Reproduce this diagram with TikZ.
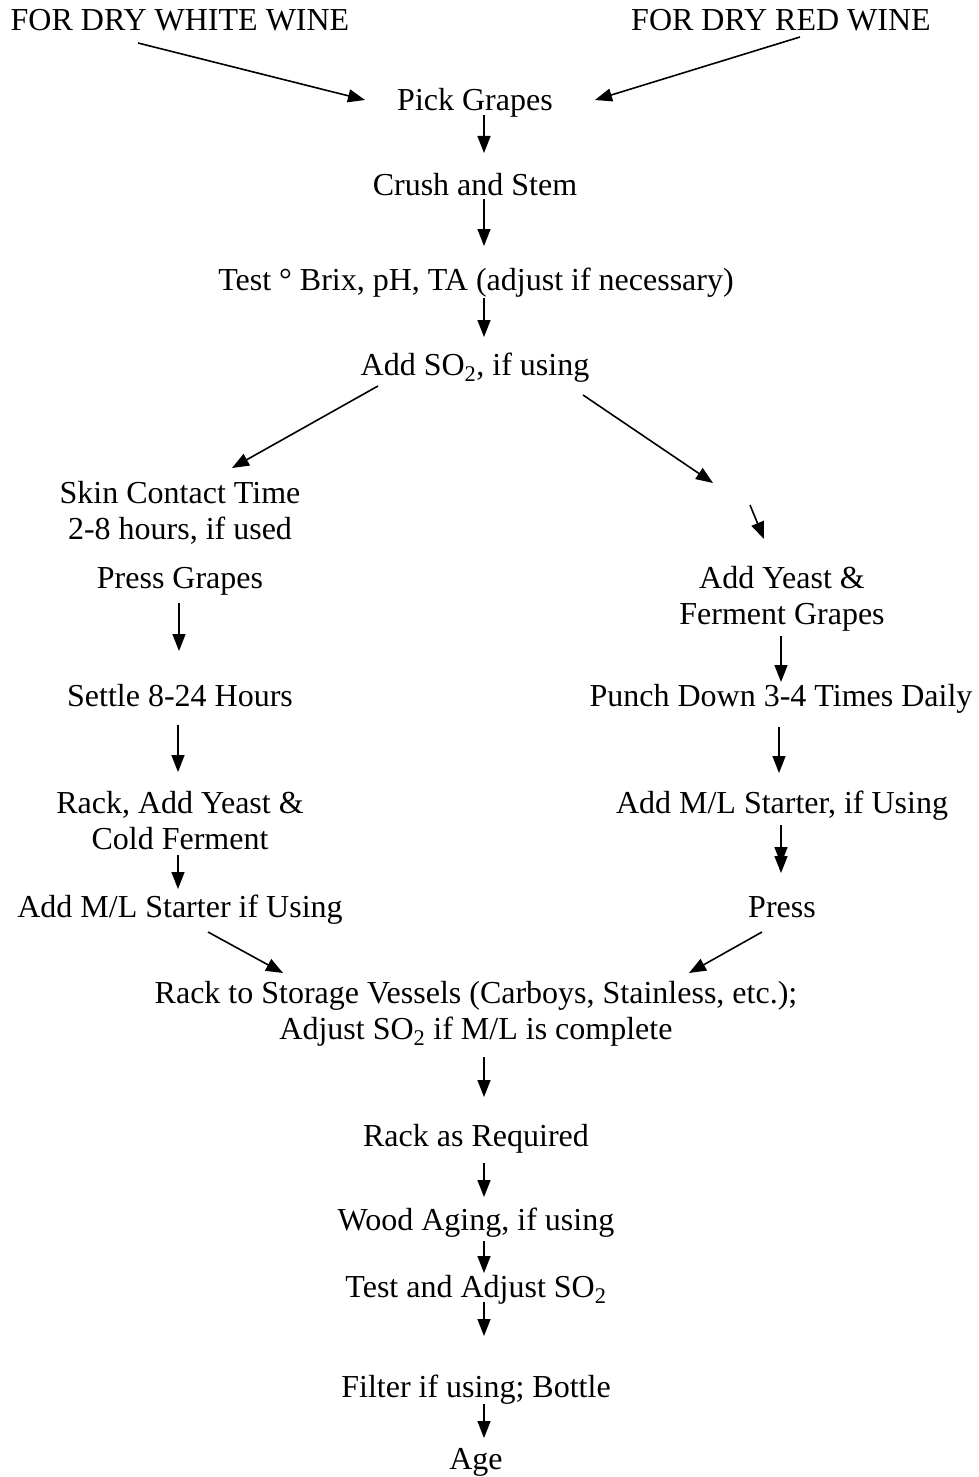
\documentclass[tikz,border=0pt]{standalone}
\usepackage{fontspec}
\setmainfont{Liberation Serif}
\usetikzlibrary{arrows.meta}
\tikzset{
  lbl/.style={anchor=base, inner sep=0pt, outer sep=0pt, font=\fontsize{32}{36}\selectfont},
  arr/.style={-{Triangle[length=17pt,width=13pt]}, line width=1.6pt},
  arrdbl/.style={-{Triangle[length=17pt,width=13pt,sep=-8pt]Triangle[length=17pt,width=13pt]}, line width=1.6pt}
}
\newcommand{\twoline}[2]{\begin{tabular}[t]{@{}c@{}}#1\\#2\end{tabular}}
\begin{document}
\begin{tikzpicture}[x=1pt,y=-1pt]
\useasboundingbox (0,0) rectangle (979,1477);
\node[lbl] (white) at (180,31) {FOR DRY WHITE WINE};
\node[lbl] (red) at (781,31) {FOR DRY RED WINE};
\node[lbl] (pick) at (475,111) {Pick Grapes};
\node[lbl] (crush) at (475,195) {Crush and Stem};
\node[lbl] (test) at (476,290) {Test ° Brix, pH, TA (adjust if necessary)};
\node[lbl] (so2) at (475,375) {Add SO\textsubscript{2}, if using};
\node[lbl] (skin) at (180,503) {\twoline{Skin Contact Time}{2-8 hours, if used}};
\node[lbl] (press) at (180,588) {Press Grapes};
\node[lbl] (settle) at (180,706) {Settle 8-24 Hours};
\node[lbl] (rack) at (180,813) {\twoline{Rack, Add Yeast \&}{Cold Ferment}};
\node[lbl] (mlw) at (180,917) {Add M/L Starter if Using};
\node[lbl] (yeast) at (782,588) {\twoline{Add Yeast \&}{Ferment Grapes}};
\node[lbl] (punch) at (781,706) {Punch Down 3-4 Times Daily};
\node[lbl] (mlr) at (782,813) {Add M/L Starter, if Using};
\node[lbl] (pressr) at (782,917) {Press};
\node[lbl] (store) at (476,1003) {\twoline{Rack to Storage Vessels (Carboys, Stainless, etc.);}{Adjust SO\textsubscript{2} if M/L is complete}};
\node[lbl] (rackreq) at (476,1146) {Rack as Required};
\node[lbl] (wood) at (476,1230) {Wood Aging, if using};
\node[lbl] (adjust) at (476,1297) {Test and Adjust SO\textsubscript{2}};
\node[lbl] (filter) at (476,1397) {Filter if using; Bottle};
\node[lbl] (age) at (476,1469) {Age};
\coordinate (gapA) at (713,483);
\coordinate (gapB) at (750,505);

\draw[arr] ([shift={(-42,12)}]white.base) -- ([shift={(-110,-11)}]pick.base);
\draw[arr] ([shift={(19,6)}]red.base) -- ([shift={(120,-11)}]pick.base);
\draw[arr] ([shift={(9,4)}]pick.base) -- ([shift={(9,-42)}]crush.base);
\draw[arr] ([shift={(9,4)}]crush.base) -- ([shift={(8,-44)}]test.base);
\draw[arr] ([shift={(8,8)}]test.base) -- ([shift={(9,-38)}]so2.base);
\draw[arr] ([shift={(-97,11)}]so2.base) -- ([shift={(52,-35)}]skin.base);
\draw[arr] ([shift={(108,20)}]so2.base) -- (gapA);
\draw[arr] (gapB) -- ([shift={(-18,-49)}]yeast.base);
\draw[arr] ([shift={(-1,15)}]press.base) -- ([shift={(-1,-55)}]settle.base);
\draw[arr] ([shift={(-2,19)}]settle.base) -- ([shift={(-2,-41)}]rack.base);
\draw[arr] ([shift={(-2,42)}]rack.base) -- ([shift={(-2,-28)}]mlw.base);
\draw[arr] ([shift={(-1,48)}]yeast.base) -- ([shift={(0,-24)}]punch.base);
\draw[arr] ([shift={(-2,21)}]punch.base) -- ([shift={(-3,-40)}]mlr.base);
\draw[arrdbl] ([shift={(-1,12)}]mlr.base) -- ([shift={(-1,-44)}]pressr.base);
\draw[arr] ([shift={(28,15)}]mlw.base) -- ([shift={(-193,-30)}]store.base);
\draw[arr] ([shift={(-20,15)}]pressr.base) -- ([shift={(213,-30)}]store.base);
\draw[arr] ([shift={(8,54)}]store.base) -- ([shift={(8,-49)}]rackreq.base);
\draw[arr] ([shift={(8,17)}]rackreq.base) -- ([shift={(8,-33)}]wood.base);
\draw[arr] ([shift={(8,11)}]wood.base) -- ([shift={(8,-24)}]adjust.base);
\draw[arr] ([shift={(8,5)}]adjust.base) -- ([shift={(8,-61)}]filter.base);
\draw[arr] ([shift={(8,7)}]filter.base) -- ([shift={(8,-31)}]age.base);
\end{tikzpicture}
\end{document}
